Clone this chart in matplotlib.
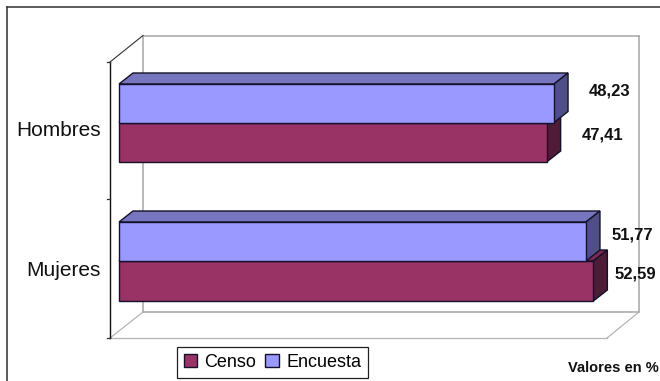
import matplotlib
matplotlib.use("Agg")
import matplotlib.pyplot as plt
from matplotlib.patches import Polygon, Patch

plt.rcParams["font.family"] = ["Liberation Sans", "DejaVu Sans"]

categories = ["Hombres", "Mujeres"]
censo = [47.41, 52.59]
encuesta = [48.23, 51.77]
series_names = ["Censo", "Encuesta"]
value_note = "Valores en %"

W, H = 660, 381
PX_PER_UNIT = 9.02      # horizontal pixels per percentage point
ORIGIN = 119            # pixel column of value 0
DX, DY = 14, -11        # oblique offset used for the 3D depth

# Vertical layout of each category: encuesta top, shared edge, censo bottom
ROWS = [(84, 122.5, 162), (222, 261, 301)]
LABEL_Y = [130, 270]
ENC_LABEL = [(56, 91), (46, 235)]
CEN_LABEL = [(56, 135), (42, 274)]

C_CENSO = ("#993366", "#7A2952", "#4F1C37")
C_ENC = ("#9999FF", "#7676BE", "#4F4F85")
EDGE = "#14102A"

fig = plt.figure(figsize=(W / 100, H / 100), dpi=100)
ax = fig.add_axes([0, 0, 1, 1])
ax.set_xlim(-ORIGIN / PX_PER_UNIT, (W - ORIGIN) / PX_PER_UNIT)
ax.set_ylim(H, 0)
ax.axis("off")


def px(col):
    """Pixel column to value units."""
    return (col - ORIGIN) / PX_PER_UNIT


def seg(x0, y0, x1, y1, color, lw, z=1):
    ax.plot([px(x0), px(x1)], [y0, y1], color=color, lw=lw, zorder=z,
            solid_capstyle="projecting")


def box3d(value, top, bottom, colors, z):
    x0, x1 = 0, value
    d, front_top, front_bot = DX / PX_PER_UNIT, top, bottom
    faces = [
        ([(x0, front_top), (x1, front_top), (x1 + d, front_top + DY), (x0 + d, front_top + DY)], colors[1]),
        ([(x1, front_top), (x1 + d, front_top + DY), (x1 + d, front_bot + DY), (x1, front_bot)], colors[2]),
        ([(x0, front_top), (x1, front_top), (x1, front_bot), (x0, front_bot)], colors[0]),
    ]
    for pts, col in faces:
        ax.add_patch(Polygon(pts, closed=True, facecolor=col, edgecolor=EDGE,
                             lw=1.0, joinstyle="miter", zorder=z))


# Outer chart frame: open on the right and at the bottom
seg(6.5, 6.5, 660, 6.5, "#303030", 1.1)
seg(6.5, 6.5, 6.5, 381, "#303030", 1.1)

# Back wall and floor of the 3D box
for a in [(143, 35.5, 639, 35.5), (639, 35.5, 639, 312), (143, 35.5, 143, 312), (143, 312, 639, 312)]:
    seg(*a, "#A6A6A6", 1.1)
for a in [(110, 338, 607, 338), (607, 338, 639, 312), (110, 338, 143, 312)]:
    seg(*a, "#B4B4B4", 0.9)

# Category axis with its ticks
seg(110, 62, 143, 35.5, "#303030", 0.8)
seg(110, 62, 110, 338, "#101010", 1.0, 2)
for tick in (62, 199, 338):
    seg(106.5, tick, 110, tick, "#303030", 0.9, 2)

# Bars, censo underneath so encuesta overlaps its depth faces
for i, name in enumerate(categories):
    top, mid, bot = ROWS[i]
    box3d(censo[i], mid, bot, C_CENSO, 3 + 2 * i)
    box3d(encuesta[i], top, mid, C_ENC, 4 + 2 * i)
    ax.text(px(101), LABEL_Y[i], name, ha="right", va="center", fontsize=15, color="#111111")
    for val, (off, y) in ((encuesta[i], ENC_LABEL[i]), (censo[i], CEN_LABEL[i])):
        ax.text(val + off / PX_PER_UNIT, y, f"{val:.2f}".replace(".", ","), ha="center",
                va="center", fontsize=12, fontweight="bold", color="#111111", zorder=10)

ax.text(px(659), 368, value_note, ha="right", va="center", fontsize=10.5,
        fontweight="bold", color="#111111")

# Legend box underneath the floor
handles = [Patch(facecolor=C_CENSO[0], edgecolor=EDGE, lw=1.0),
           Patch(facecolor=C_ENC[0], edgecolor=EDGE, lw=1.0)]
leg = ax.legend(handles, series_names, ncol=2, loc="center",
                bbox_to_anchor=(272.5 / W, 1 - 362.5 / H), fontsize=13, frameon=True,
                fancybox=False, edgecolor="#202020", framealpha=1,
                handlelength=0.75, handleheight=0.75, handletextpad=0.4,
                columnspacing=0.5, borderpad=0.4, borderaxespad=0)
leg.get_frame().set_linewidth(0.9)

fig.savefig("out.png", dpi=100)
